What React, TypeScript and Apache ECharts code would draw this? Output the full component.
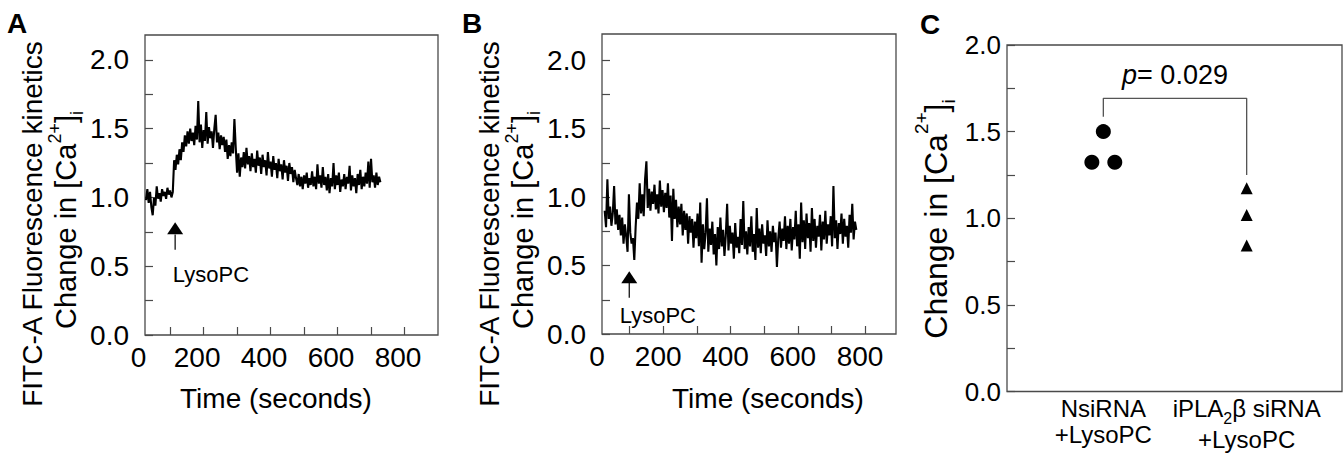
import React, { useEffect, useRef } from "react";
import * as echarts from "echarts";

const FONT = '"Liberation Sans", Arial, Helvetica, sans-serif';
const INK = "#000";
const FRAME = "#4a4a4a";

// Fluorescence traces, sampled every 4 s
const TRACE_A_START = 28;
const TRACE_B_START = 26;
const SAMPLE_STEP = 4;

const traceAValues = [
  0.98, 1.06, 0.96, 1.04, 0.93, 0.87, 1.0, 0.94, 1.08, 0.99,
  1.03, 0.97, 1.06, 1.01, 1.04, 0.99, 1.07, 1.02, 1.05, 1.0,
  1.04,
  1.27, 1.2, 1.31, 1.24, 1.35, 1.27, 1.4, 1.33, 1.45, 1.37,
  1.48, 1.39, 1.5, 1.41, 1.47, 1.38, 1.52, 1.42, 1.7, 1.4,
  1.53, 1.36, 1.49, 1.41, 1.62, 1.39, 1.51, 1.43, 1.48, 1.36,
  1.5, 1.6, 1.4, 1.47, 1.35, 1.45, 1.38, 1.44,
  1.33, 1.42, 1.28, 1.38, 1.3, 1.4, 1.32, 1.57, 1.36,
  1.18, 1.32, 1.15, 1.29, 1.22,
  1.33, 1.21, 1.36, 1.24, 1.3, 1.19, 1.32, 1.22, 1.28, 1.18,
  1.34, 1.23, 1.29, 1.17, 1.31, 1.22, 1.27, 1.16, 1.33, 1.21,
  1.26, 1.15, 1.3, 1.2, 1.25, 1.14, 1.28, 1.19, 1.24, 1.13,
  1.27, 1.18, 1.23, 1.12, 1.25, 1.17, 1.22, 1.11, 1.2, 1.14,
  1.09, 1.17, 1.08, 1.15, 1.06, 1.16, 1.1, 1.18, 1.07, 1.14,
  1.09, 1.19, 1.08, 1.15, 1.06, 1.24, 1.1, 1.16, 1.07, 1.22,
  1.09, 1.15, 1.05, 1.17, 1.03, 1.14, 1.08, 1.25, 1.06, 1.16,
  1.09, 1.18, 1.04, 1.13, 1.08, 1.17, 1.06, 1.15, 1.1, 1.23,
  1.05, 1.16, 1.08, 1.14, 1.03, 1.17, 1.09, 1.2, 1.06, 1.15,
  1.08, 1.18, 1.1, 1.26, 1.07, 1.28, 1.11, 1.16, 1.07, 1.18,
  1.09, 1.15, 1.11,
];

const traceBValues = [
  0.9, 0.78, 1.13, 0.84, 0.93, 0.79, 0.88, 1.08, 0.8, 0.91,
  0.76, 0.87, 0.72, 0.85, 0.66, 0.8, 0.71,
  0.6, 1.02, 0.74, 0.66, 0.7, 0.54,
  0.78, 0.96, 0.84, 1.1, 0.88, 1.02, 0.86, 1.13,
  1.26,
  0.92, 1.06, 0.9, 1.04, 0.95, 1.09, 0.91, 1.02, 0.88, 1.12,
  0.93, 1.05, 0.89, 1.03, 0.92, 1.1, 0.85, 1.01, 0.68, 1.06,
  0.84, 0.98, 0.78, 0.93, 0.8, 0.95, 0.72, 0.9, 0.76, 0.88,
  0.66, 0.86, 0.74, 0.84, 0.63, 0.82, 0.7, 0.88, 0.64, 0.96,
  0.52, 0.8, 0.62, 0.74, 0.99, 0.6, 0.77, 0.65, 0.82, 0.58,
  0.73, 0.5, 0.78, 0.62, 0.85, 0.64, 0.76, 0.57, 0.72, 0.95,
  0.61, 0.79, 0.66, 0.74, 0.55, 0.81, 0.63, 0.71, 0.59, 0.84,
  0.65, 0.97, 0.62, 0.75, 0.58, 0.78, 0.64, 0.86, 0.6, 0.73,
  0.54, 0.92, 0.63, 0.77, 0.59, 0.8, 0.66, 0.72, 0.57, 0.83,
  0.64, 0.75, 0.6, 0.79, 0.67, 0.74, 0.49,
  0.7, 0.82, 0.63, 0.77, 0.68, 0.86, 0.62, 0.79, 0.66, 0.84,
  0.61, 0.78, 0.69, 0.9, 0.64, 0.8, 0.55, 0.96, 0.67, 0.83,
  0.62, 0.88, 0.7, 0.81, 0.6, 0.92, 0.68, 0.84, 0.63, 0.79,
  0.71, 0.87, 0.61, 0.82, 0.69, 0.9, 0.66, 0.8, 0.72, 0.86,
  0.64, 1.08, 0.7, 0.83, 0.62, 0.81, 0.73, 0.88, 0.66, 0.84,
  0.71, 0.79, 0.63, 0.87, 0.74, 0.95, 0.69, 0.82, 0.76,
];

// LysoPC addition markers
const arrowA = { time: 115, tail: 0.62, headBase: 0.73, head: 0.775, labelTime: 222, labelValue: 0.44 };
const arrowB = { time: 99, tail: 0.265, headBase: 0.375, head: 0.415, labelTime: 184, labelValue: 0.135 };

const yTickValues = [0, 0.25, 0.5, 0.75, 1, 1.25, 1.5, 1.75, 2];
const yLabelValues = [0, 0.5, 1, 1.5, 2];
const xTickValues = [100, 200, 300, 400, 500, 600, 700, 800];
const xLabelValues = [200, 400, 600, 800];
const xRangeA = [25, 900];
const xRangeB = [18, 892];

// Panel C
const groupPositions = [1, 2];
const nsiRnaPoints = [[0.92, 1.323], [1, 1.5], [1.08, 1.323]];
const iplaPoints = [[2, 1.173], [2, 1.019], [2, 0.842]];
const bracket = [[1, 1.586], [1, 1.692], [2, 1.692], [2, 1.25]];
const pValue = "0.029";
const pLabelAt = [1.5, 1.825];

function toSeries(start: number, values: number[]) {
  return values.map((v, i) => [start + i * SAMPLE_STEP, v]);
}

function traceAxes(grid: number, range: number[], labelShift: number, yMax: number) {
  const xAxis = {
    type: "value",
    gridIndex: grid,
    min: range[0],
    max: range[1],
    axisLine: { show: false },
    splitLine: { show: false },
    axisTick: {
      show: true,
      inside: true,
      length: 8,
      customValues: xTickValues,
      lineStyle: { color: FRAME, width: 1.2 },
    },
    axisLabel: {
      show: true,
      customValues: [range[0], ...xLabelValues],
      formatter: (v: number) => (v === range[0] ? "0" : String(v)),
      fontSize: 28,
      fontFamily: FONT,
      color: INK,
      margin: 8,
      padding: [0, labelShift, 0, 0],
    },
  };
  const yAxis = {
    type: "value",
    gridIndex: grid,
    min: 0,
    max: yMax,
    axisLine: { show: false },
    splitLine: { show: false },
    axisTick: {
      show: true,
      inside: true,
      length: 8,
      customValues: yTickValues,
      lineStyle: { color: FRAME, width: 1.2 },
    },
    axisLabel: {
      show: true,
      customValues: yLabelValues,
      formatter: (v: number) => v.toFixed(1),
      fontSize: 28,
      fontFamily: FONT,
      color: INK,
      margin: 16,
    },
  };
  return { xAxis, yAxis };
}

const solid = { color: INK, opacity: 1 };

function arrowSeries(idx: number, a: typeof arrowA) {
  return [
    {
      type: "line",
      xAxisIndex: idx,
      yAxisIndex: idx,
      data: [[a.time, a.tail], [a.time, a.headBase]],
      symbol: "none",
      lineStyle: { color: INK, width: 1.2, opacity: 1 },
      silent: true,
    },
    {
      type: "scatter",
      xAxisIndex: idx,
      yAxisIndex: idx,
      data: [[a.time, a.head]],
      symbol: "triangle",
      symbolSize: [16, 12],
      itemStyle: solid,
      silent: true,
    },
    {
      type: "scatter",
      xAxisIndex: idx,
      yAxisIndex: idx,
      data: [[a.labelTime, a.labelValue]],
      symbolSize: 0,
      itemStyle: solid,
      label: {
        show: true,
        position: "inside",
        formatter: "LysoPC",
        fontSize: 22,
        fontFamily: FONT,
        color: INK,
        opacity: 1,
      },
      silent: true,
    },
  ];
}

function caTitleRich(main: number, small: number, mainPad: number, subPad: number) {
  return {
    m: { fontSize: main, lineHeight: main, padding: [mainPad, 0, 0, 0], verticalAlign: "top", fill: INK, fontFamily: FONT },
    sup: { fontSize: small, lineHeight: small, verticalAlign: "top", fill: INK, fontFamily: FONT },
    sub: { fontSize: small, lineHeight: small, padding: [subPad, 0, 0, 0], verticalAlign: "top", fill: INK, fontFamily: FONT },
  };
}
const CA_TEXT = "{m|Change in [Ca}{sup|2+}{m|]}{sub|i}";

export default function App() {
  const ref = useRef<HTMLDivElement>(null);

  useEffect(() => {
    if (!ref.current) return;
    const chart = echarts.init(ref.current, undefined, { renderer: "svg" });

    const a = traceAxes(0, xRangeA, 13, 2.18);
    const b = traceAxes(1, xRangeB, 10, 2.19);

    const gridBase = {
      show: true,
      borderColor: FRAME,
      borderWidth: 1.3,
      backgroundColor: "transparent",
      containLabel: false,
      outerBoundsMode: "none",
    };

    const option: any = {
      animation: false,
      backgroundColor: "#fff",
      textStyle: { fontFamily: FONT },
      grid: [
        { ...gridBase, left: 145, top: 35, width: 293, height: 300 },
        { ...gridBase, left: 602, top: 34, width: 294, height: 300 },
        { ...gridBase, left: 1007, top: 45, width: 335, height: 346.5 },
      ],
      xAxis: [
        a.xAxis,
        b.xAxis,
        {
          type: "value",
          gridIndex: 2,
          min: 0.328,
          max: 2.665,
          axisLine: { show: false },
          splitLine: { show: false },
          axisTick: { show: false },
          axisLabel: {
            show: true,
            customValues: groupPositions,
            margin: 5,
            formatter: (v: number) =>
              v === 1
                ? "{a|NsiRNA}\n{a|+LysoPC}"
                : "{a|iPLA}{sub|2}{a|β siRNA}\n{b|+LysoPC}",
            rich: {
              a: { fontSize: 24, lineHeight: 25.5, verticalAlign: "top", color: INK, fontFamily: FONT },
              sub: { fontSize: 16, lineHeight: 16, padding: [13.75, 0, 0, 0], verticalAlign: "top", color: INK, fontFamily: FONT },
              b: { fontSize: 24, lineHeight: 25.5, padding: [5, 0, 0, 0], verticalAlign: "top", color: INK, fontFamily: FONT },
            },
          },
        },
      ],
      yAxis: [
        a.yAxis,
        b.yAxis,
        {
          type: "value",
          gridIndex: 2,
          min: 0,
          max: 2,
          axisLine: { show: false },
          splitLine: { show: false },
          axisTick: {
            show: true,
            inside: true,
            length: 8,
            customValues: yTickValues,
            lineStyle: { color: FRAME, width: 1.2 },
          },
          axisLabel: {
            show: true,
            customValues: yLabelValues,
            formatter: (v: number) => v.toFixed(1),
            fontSize: 26,
            fontFamily: FONT,
            color: INK,
            margin: 6,
          },
        },
      ],
      series: [
        {
          type: "line",
          xAxisIndex: 0,
          yAxisIndex: 0,
          data: toSeries(TRACE_A_START, traceAValues),
          symbol: "none",
          lineStyle: { color: INK, width: 2.1, opacity: 1 },
          silent: true,
        },
        ...arrowSeries(0, arrowA),
        {
          type: "line",
          xAxisIndex: 1,
          yAxisIndex: 1,
          data: toSeries(TRACE_B_START, traceBValues),
          symbol: "none",
          lineStyle: { color: INK, width: 2.1, opacity: 1 },
          silent: true,
        },
        ...arrowSeries(1, arrowB),
        {
          type: "line",
          xAxisIndex: 2,
          yAxisIndex: 2,
          data: bracket,
          symbol: "none",
          lineStyle: { color: "#555", width: 1.3, opacity: 1 },
          silent: true,
        },
        {
          type: "scatter",
          xAxisIndex: 2,
          yAxisIndex: 2,
          data: nsiRnaPoints,
          symbol: "circle",
          symbolSize: 15,
          itemStyle: solid,
          silent: true,
        },
        {
          type: "scatter",
          xAxisIndex: 2,
          yAxisIndex: 2,
          data: iplaPoints,
          symbol: "triangle",
          symbolSize: [12, 12],
          itemStyle: solid,
          silent: true,
        },
        {
          type: "scatter",
          xAxisIndex: 2,
          yAxisIndex: 2,
          data: [pLabelAt],
          symbolSize: 0,
          itemStyle: solid,
          label: {
            show: true,
            position: "inside",
            opacity: 1,
            formatter: "{i|p}{n|= " + pValue + "}",
            rich: {
              i: { fontSize: 27, fontStyle: "italic", color: INK, fontFamily: FONT },
              n: { fontSize: 27, color: INK, fontFamily: FONT },
            },
          },
          silent: true,
        },
      ],
      graphic: [
        { type: "text", x: 7, y: 9, style: { text: "A", fontSize: 28, fontWeight: "bold", fill: INK, fontFamily: FONT } },
        { type: "text", x: 462, y: 9, style: { text: "B", fontSize: 28, fontWeight: "bold", fill: INK, fontFamily: FONT } },
        { type: "text", x: 920, y: 10, style: { text: "C", fontSize: 28, fontWeight: "bold", fill: INK, fontFamily: FONT } },
        {
          type: "text", x: 32, y: 224, rotation: Math.PI / 2,
          style: { text: "FITC-A Fluorescence kinetics", fontSize: 28, fill: INK, fontFamily: FONT, align: "center", verticalAlign: "middle" },
        },
        {
          type: "text", x: 60, y: 220, rotation: Math.PI / 2,
          style: { text: CA_TEXT, rich: caTitleRich(29, 18, 6, 22.5), align: "center", verticalAlign: "middle" },
        },
        {
          type: "text", x: 489, y: 224, rotation: Math.PI / 2,
          style: { text: "FITC-A Fluorescence kinetics", fontSize: 28, fill: INK, fontFamily: FONT, align: "center", verticalAlign: "middle" },
        },
        {
          type: "text", x: 517, y: 220, rotation: Math.PI / 2,
          style: { text: CA_TEXT, rich: caTitleRich(29, 18, 6, 22.5), align: "center", verticalAlign: "middle" },
        },
        {
          type: "text", x: 928, y: 219, rotation: Math.PI / 2,
          style: { text: CA_TEXT, rich: caTitleRich(32, 19, 8, 26.5), align: "center", verticalAlign: "middle" },
        },
        {
          type: "text", x: 276, y: 398,
          style: { text: "Time (seconds)", fontSize: 28, fill: INK, fontFamily: FONT, align: "center", verticalAlign: "middle" },
        },
        {
          type: "text", x: 768, y: 398,
          style: { text: "Time (seconds)", fontSize: 28, fill: INK, fontFamily: FONT, align: "center", verticalAlign: "middle" },
        },
      ],
    };

    chart.setOption(option);
    return () => chart.dispose();
  }, []);

  return (
    <div
      ref={ref}
      style={{ position: "fixed", left: 0, top: 0, width: 1343, height: 460, background: "#fff" }}
    />
  );
}
